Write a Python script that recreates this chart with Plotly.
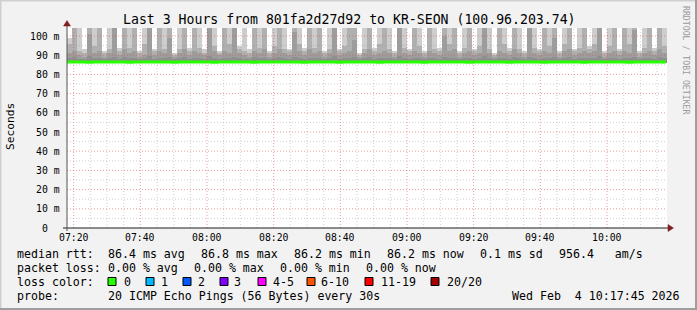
import plotly.graph_objects as go
import pandas as pd
import numpy as np

# ---------------- data ----------------
title = "Last 3 Hours from 801fa2d27d92 to KR-SEON (100.96.203.74)"
t_start = "2026-02-04 07:18:00"
t_end = "2026-02-04 10:18:00"
step_seconds = 90

# smoke: top of each grey band (ms); all bands start just under the median
ping_max = [
    99, 105, 105, 93, 105, 104, 105, 92, 105, 105,
    94, 105, 105, 105, 92, 105, 104, 93, 105, 105,
    105, 91, 105, 105, 94, 105, 105, 93, 105, 104,
    92, 105, 105, 105, 95, 105, 93, 105, 105, 105,
    92, 105, 104, 105, 93, 105, 105, 94, 105, 105,
    105, 92, 105, 105, 93, 105, 104, 105, 91, 105,
    105, 94, 105, 105, 105, 92, 105, 105, 93, 105,
    104, 92, 105, 105, 94, 105, 105, 105, 92, 105,
    105, 93, 105, 104, 105, 91, 105, 105, 94, 105,
    105, 92, 105, 105, 93, 105, 105, 105, 92, 105,
    104, 93, 105, 105, 95, 105, 105, 92, 105, 105,
    93, 105, 105, 104, 92, 105, 105, 94, 105, 105,
]
ping_q2 = [
    96, 104, 92, 91, 105, 95, 104, 91, 93, 105,
    92, 105, 94, 104, 91, 96, 104, 92, 104, 93,
    105, 90, 93, 105, 92, 104, 94, 91, 105, 95,
    91, 104, 96, 105, 93, 92, 91, 105, 94, 104,
    91, 95, 104, 93, 92, 104, 96, 92, 105, 94,
    104, 91, 93, 105, 92, 95, 104, 104, 90, 93,
    105, 92, 96, 104, 93, 91, 105, 94, 92, 104,
    95, 91, 105, 93, 92, 104, 96, 105, 91, 94,
    104, 92, 95, 104, 93, 90, 104, 96, 92, 105,
    93, 91, 105, 94, 92, 104, 95, 105, 91, 96,
    104, 92, 94, 104, 93, 96, 105, 91, 95, 104,
    92, 104, 96, 104, 91, 94, 104, 92, 105, 95,
]
ping_q3 = [
    91, 92, 90, 89, 101, 91, 92, 89, 91, 104,
    90, 93, 91, 92, 89, 90, 104, 90, 92, 91,
    99, 89, 91, 93, 90, 92, 91, 90, 104, 92,
    90, 92, 91, 104, 91, 90, 89, 92, 91, 93,
    89, 91, 93, 91, 90, 102, 92, 90, 93, 91,
    92, 89, 91, 104, 90, 91, 92, 98, 89, 91,
    93, 90, 91, 92, 91, 89, 104, 91, 90, 92,
    91, 89, 92, 91, 90, 100, 92, 93, 89, 91,
    92, 90, 91, 104, 91, 89, 92, 91, 90, 93,
    91, 89, 104, 91, 90, 92, 91, 99, 89, 92,
    93, 90, 91, 92, 91, 92, 104, 89, 91, 92,
    90, 92, 91, 103, 89, 91, 92, 90, 93, 91,
]
ping_q4 = [
    88.5, 89.0, 88.2, 88.0, 89.5, 88.4, 88.8, 87.9, 88.3, 89.2,
    88.1, 88.9, 88.6, 88.7, 88.0, 88.3, 89.6, 88.2, 88.8, 88.4,
    89.1, 87.8, 88.4, 88.9, 88.2, 88.7, 88.5, 88.1, 89.4, 88.6,
    88.2, 88.8, 88.5, 89.3, 88.4, 88.1, 87.9, 88.9, 88.3, 88.7,
    87.9, 88.5, 88.9, 88.4, 88.1, 89.2, 88.6, 88.2, 88.8, 88.4,
    88.7, 87.9, 88.3, 89.4, 88.2, 88.5, 88.8, 89.0, 87.8, 88.4,
    88.9, 88.1, 88.4, 88.7, 88.5, 88.0, 89.5, 88.3, 88.2, 88.8,
    88.4, 88.0, 88.7, 88.5, 88.2, 89.1, 88.6, 88.8, 87.9, 88.3,
    88.8, 88.2, 88.4, 89.5, 88.5, 87.9, 88.7, 88.4, 88.1, 88.9,
    88.3, 87.9, 89.3, 88.5, 88.1, 88.7, 88.4, 89.0, 88.0, 88.6,
    88.9, 88.2, 88.4, 88.7, 88.3, 88.6, 89.4, 88.0, 88.5, 88.7,
    88.1, 88.8, 88.5, 89.2, 87.9, 88.4, 88.7, 88.2, 88.9, 88.5,
]
median_rtt = [
    86.5, 86.4, 86.4, 86.4, 86.3, 86.4, 86.4, 86.5, 86.4, 86.4,
    86.4, 86.4, 86.3, 86.4, 86.4, 86.4, 86.5, 86.4, 86.4, 86.4,
    86.4, 86.3, 86.4, 86.4, 86.4, 86.4, 86.5, 86.4, 86.4, 86.3,
    86.4, 86.4, 86.4, 86.5, 86.4, 86.4, 86.4, 86.3, 86.4, 86.4,
    86.4, 86.4, 86.5, 86.4, 86.4, 86.4, 86.4, 86.3, 86.4, 86.4,
    86.5, 86.4, 86.4, 86.4, 86.3, 86.4, 86.4, 86.4, 86.4, 86.5,
    86.4, 86.4, 86.3, 86.4, 86.4, 86.4, 86.5, 86.4, 86.4, 86.4,
    86.4, 86.3, 86.4, 86.4, 86.5, 86.4, 86.4, 86.4, 86.4, 86.4,
    86.3, 86.4, 86.4, 86.5, 86.4, 86.4, 86.4, 86.4, 86.3, 86.4,
    86.4, 86.5, 86.4, 86.4, 86.4, 86.3, 86.4, 86.4, 86.4, 86.4,
    86.5, 86.4, 86.4, 86.3, 86.4, 86.4, 86.4, 86.5, 86.4, 86.4,
    86.4, 86.4, 86.3, 86.4, 86.4, 86.5, 86.4, 86.4, 86.4, 86.4,
]
smoke_floor = 86.1

x_tick_labels = ["07:20", "07:40", "08:00", "08:20", "08:40", "09:00", "09:20", "09:40", "10:00"]
y_tick_values = [0, 10, 20, 30, 40, 50, 60, 70, 80, 90, 100]
y_tick_labels = ["0", "10 m", "20 m", "30 m", "40 m", "50 m", "60 m", "70 m", "80 m", "90 m", "100 m"]
y_range = [0, 104.17]

legend_rows = [
    ["median rtt:", "86.4 ms avg", "86.8 ms max", "86.2 ms min", "86.2 ms now", "0.1 ms sd", "956.4\u00a0\u00a0\u00a0am/s"],
    ["packet loss:", "0.00 % avg", "0.00 % max", "0.00 % min", "0.00 % now"],
]
loss_labels = ["0", "1", "2", "3", "4-5", "6-10", "11-19", "20/20"]
loss_colors = ["#26ff00", "#00b8ff", "#0059ff", "#7e00ff", "#ff00ff", "#ff5500", "#ff0000", "#a10000"]
probe_text = "20 ICMP Echo Pings (56 Bytes) every 30s"
date_text = "Wed Feb\u00a0\u00a04 10:17:45 2026"

# ---------------- layout geometry ----------------
W, H = 697, 310
PL, PR, PT, PB = 67, 667, 28, 228   # plot area in pixels
MONO = "DejaVu Sans Mono"


def px2x(px):
    return (px - PL) / (PR - PL)


def py2y(py):
    return (PB - py) / (PB - PT)


times = pd.date_range(t_start, periods=len(ping_max), freq=f"{step_seconds}s")
top1 = np.array(ping_max, float)
top2 = np.minimum(np.array(ping_q2, float), top1)
top3 = np.minimum(np.array(ping_q3, float), top2)
top4 = np.minimum(np.array(ping_q4, float), top3)

fig = go.Figure()
band_colors = ["#cdcdcd", "#b0b0b0", "#9d9d9d", "#8e8e8e"]
for top, col in zip([top1, top2, top3, top4], band_colors):
    fig.add_trace(go.Bar(
        x=times, y=top - smoke_floor, base=smoke_floor,
        width=step_seconds * 1000, offset=0,
        marker=dict(color=col, line=dict(width=0)),
        hoverinfo="skip", showlegend=False,
    ))

med_x = list(times) + [pd.Timestamp(t_end) - pd.Timedelta(seconds=20)]
med_y = list(median_rtt) + [median_rtt[-1]]
fig.add_trace(go.Scatter(
    x=med_x, y=med_y, mode="lines", line=dict(color="#26ff00", width=3, shape="hv"),
    hoverinfo="skip", showlegend=False,
))

shapes = []
# grid (drawn above data, as RRDtool does)
minor_times = pd.date_range("2026-02-04 07:20", "2026-02-04 10:15", freq="5min")
major_set = set(x_tick_labels)
for t in minor_times:
    major = t.strftime("%H:%M") in major_set
    shapes.append(dict(type="line", xref="x", yref="paper", x0=t, x1=t, y0=0, y1=1,
                       layer="above",
                       line=dict(color="rgba(222,79,79,0.55)" if major else "rgba(140,140,140,0.40)",
                                 width=1, dash="1px,2px")))
for v in range(5, 105, 5):
    major = v % 10 == 0
    shapes.append(dict(type="line", xref="paper", yref="y", x0=0, x1=1, y0=v, y1=v,
                       layer="above",
                       line=dict(color="rgba(222,79,79,0.55)" if major else "rgba(140,140,140,0.40)",
                                 width=1, dash="1px,2px")))

# axes
shapes.append(dict(type="line", xref="paper", yref="paper", x0=px2x(63), x1=px2x(669),
                   y0=0, y1=0, layer="above", line=dict(color="#1f1f1f", width=1)))
shapes.append(dict(type="line", xref="paper", yref="paper", x0=0, x1=0,
                   y0=py2y(231), y1=py2y(23), layer="above", line=dict(color="#555555", width=1)))
# arrows
shapes.append(dict(type="path", xref="paper", yref="paper", layer="above",
                   path=f"M {px2x(668)},{py2y(224.5)} L {px2x(673.5)},{py2y(228)} L {px2x(668)},{py2y(231.5)} Z",
                   fillcolor="#801f1f", line=dict(color="#801f1f", width=0.5)))
shapes.append(dict(type="path", xref="paper", yref="paper", layer="above",
                   path=f"M {px2x(63.5)},{py2y(26)} L {px2x(67)},{py2y(20.5)} L {px2x(70.5)},{py2y(26)} Z",
                   fillcolor="#801f1f", line=dict(color="#801f1f", width=0.5)))

# frame shading
def rect(x0, y0, x1, y1, col):
    return dict(type="rect", xref="paper", yref="paper", layer="above",
                x0=px2x(x0), x1=px2x(x1), y0=py2y(y1), y1=py2y(y0),
                fillcolor=col, line=dict(width=0))

shapes += [rect(0, 0, W, 1.5, "#cfcfcf"), rect(0, 0, 1.5, H, "#cfcfcf"),
           rect(W - 2, 0, W, H, "#9e9e9e"), rect(0, H - 2, W, H, "#9e9e9e")]

# loss colour boxes
box_left = [108, 146, 183, 220, 258, 307, 365, 431]
label_left = [123, 160, 197, 233, 272, 320, 380, 446]
for bx, col in zip(box_left, loss_colors):
    shapes.append(rect(bx, 277.5, bx + 8, 285.5, col) | dict(line=dict(color="#000000", width=1)))

ann = []


def txt(s, px, py, size=11.6, anchor="left", color="#000000", angle=0, xref="paper", xval=None,
        yref="paper", yval=None):
    return dict(text=s, x=px2x(px) if xval is None else xval, y=py2y(py) if yval is None else yval,
                xref=xref, yref=yref, xanchor=anchor, yanchor="middle", showarrow=False,
                borderpad=0, textangle=angle,
                font=dict(family=MONO, size=size, color=color))


ann.append(txt(title, 349, 19.5, size=13.2, anchor="center"))
ann.append(txt("Seconds", 10, 127, size=11.2, anchor="center", angle=-90))
ann.append(txt("RRDTOOL / TOBI OETIKER", 686, 60, size=8.2, anchor="center", angle=90, color="#9a9a9a"))

for v, s in zip(y_tick_values, y_tick_labels):
    right = 61 if s != "0" else 49
    ann.append(txt(s, right, 0, size=9.8, anchor="right", yref="y", yval=v))
for s in x_tick_labels:
    t = pd.Timestamp("2026-02-04 " + s)
    ann.append(txt(s, 0, 237.5, size=9.8, anchor="center", xref="x", xval=t))

row_y = [254, 268, 282, 296]
row1_x = [16, 107, 200, 293, 386, 479, 558]
row2_x = [16, 107, 193, 279, 365]
for s, x in zip(legend_rows[0], row1_x):
    ann.append(txt(s, x, row_y[0]))
for s, x in zip(legend_rows[1], row2_x):
    ann.append(txt(s, x, row_y[1]))
ann.append(txt("loss color:", 16, row_y[2]))
for s, x in zip(loss_labels, label_left):
    ann.append(txt(s, x, row_y[2]))
ann.append(txt("probe:", 16, row_y[3]))
ann.append(txt(probe_text, 107, row_y[3]))
ann.append(txt(date_text, 681, row_y[3], anchor="right"))

fig.update_layout(
    width=W, height=H,
    margin=dict(l=PL, r=W - PR, t=PT, b=H - PB, pad=0),
    paper_bgcolor="#f2f2f2", plot_bgcolor="#ffffff",
    barmode="overlay", bargap=0,
    showlegend=False,
    xaxis=dict(type="date", range=[t_start, t_end], showgrid=False, zeroline=False,
               showticklabels=False, ticks="", showline=False, fixedrange=True),
    yaxis=dict(range=y_range, showgrid=False, zeroline=False, showticklabels=False,
               ticks="", showline=False, fixedrange=True),
    shapes=shapes, annotations=ann,
)

fig.write_html("out.html", config={"displayModeBar": False})
